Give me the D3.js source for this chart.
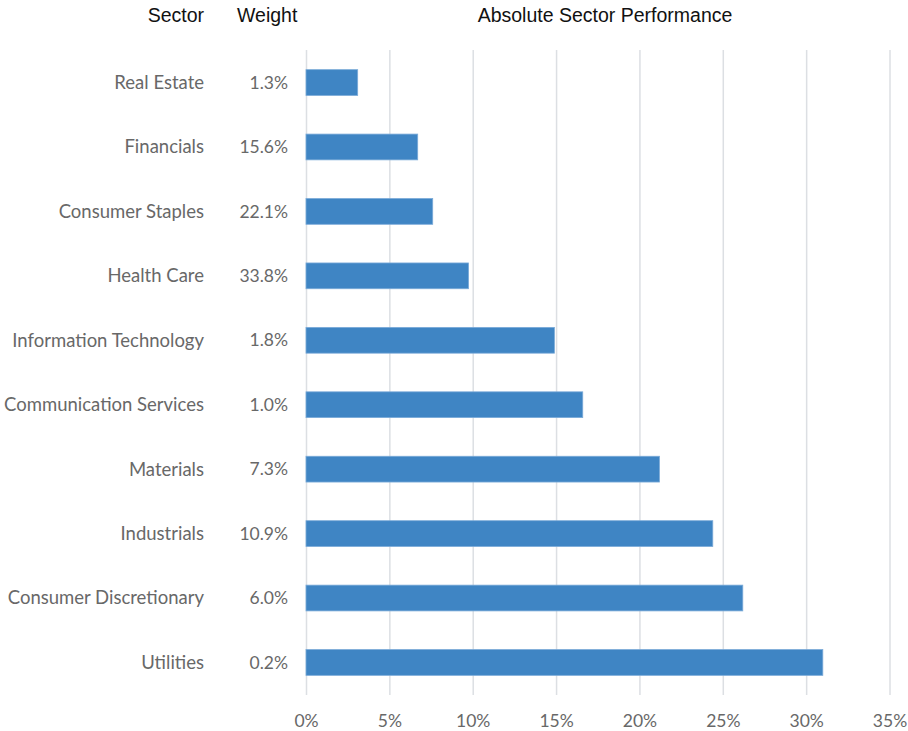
<!DOCTYPE html>
<html>
<head>
<meta charset="utf-8">
<script src="https://cdn.jsdelivr.net/npm/d3@7"></script>
<style>
  body { margin: 0; background: #fff; }
  .hdr { font-family: "Liberation Sans", Arial, sans-serif; font-size: 19.5px; fill: #111; }
  .lbl { font-family: Lato, "Open Sans", sans-serif; font-size: 17.5px; fill: #686868; }
  .sec { font-size: 18.5px; }
</style>
</head>
<body>
<div id="chart"></div>
<script>
// Data
const sectors = ["Real Estate", "Financials", "Consumer Staples", "Health Care", "Information Technology",
  "Communication Services", "Materials", "Industrials", "Consumer Discretionary", "Utilities"];
const weights = ["1.3%", "15.6%", "22.1%", "33.8%", "1.8%", "1.0%", "7.3%", "10.9%", "6.0%", "0.2%"];
const performance = [3.1, 6.7, 7.6, 9.75, 14.9, 16.6, 21.2, 24.4, 26.2, 31.0];
const xTicks = [0, 5, 10, 15, 20, 25, 30, 35];

const dataset = sectors.map((s, i) => ({ sector: s, weight: weights[i], value: performance[i] }));

// Dimensions
const dimensions = {
  width: 908,
  height: 731,
  plotLeft: 306,
  plotRight: 889.5,
  plotTop: 50,
  plotBottom: 695,
};

const svg = d3
  .select("#chart")
  .append("svg")
  .attr("width", dimensions.width)
  .attr("height", dimensions.height);

// Scales
const xScale = d3.scaleLinear().domain([0, 35]).range([dimensions.plotLeft, dimensions.plotRight]);

const yScale = d3
  .scaleBand()
  .domain(sectors)
  .range([dimensions.plotTop, dimensions.plotBottom])
  .paddingInner(0.6)
  .paddingOuter(0.305);

// Gridlines + x axis
const xAxis = d3
  .axisBottom(xScale)
  .tickValues(xTicks)
  .tickSize(-(dimensions.plotBottom - dimensions.plotTop))
  .tickFormat((d) => `${d}%`);

const axisG = svg
  .append("g")
  .attr("transform", `translate(0, ${dimensions.plotBottom})`)
  .call(xAxis);

axisG.select(".domain").remove();
axisG.selectAll(".tick line").attr("stroke", "#dcdfe3").attr("stroke-width", 1.5);
axisG
  .selectAll(".tick text")
  .attr("class", "lbl")
  .attr("y", 26)
  .attr("dy", "0.35em");
axisG.attr("font-family", null).attr("font-size", null);

// Bars
svg
  .append("g")
  .selectAll("rect")
  .data(dataset)
  .join("rect")
  .attr("x", xScale(0))
  .attr("y", (d) => yScale(d.sector))
  .attr("width", (d) => xScale(d.value) - xScale(0))
  .attr("height", yScale.bandwidth())
  .attr("fill", "#3f85c4")
  .attr("stroke", "#7aaad8")
  .attr("stroke-width", 0.8);

// Row labels
const mid = (d) => yScale(d.sector) + yScale.bandwidth() / 2;

svg
  .append("g")
  .selectAll("text")
  .data(dataset)
  .join("text")
  .attr("class", "lbl sec")
  .attr("x", 204)
  .attr("y", mid)
  .attr("dy", "0.35em")
  .attr("text-anchor", "end")
  .text((d) => d.sector);

svg
  .append("g")
  .selectAll("text")
  .data(dataset)
  .join("text")
  .attr("class", "lbl")
  .attr("x", 288)
  .attr("y", mid)
  .attr("dy", "0.35em")
  .attr("text-anchor", "end")
  .text((d) => d.weight);

// Headers
svg.append("text").attr("class", "hdr").attr("x", 204).attr("y", 22).attr("text-anchor", "end").text("Sector");
svg.append("text").attr("class", "hdr").attr("x", 237).attr("y", 22).text("Weight");
svg
  .append("text")
  .attr("class", "hdr")
  .attr("x", 605)
  .attr("y", 22)
  .attr("text-anchor", "middle")
  .text("Absolute Sector Performance");
</script>
</body>
</html>
